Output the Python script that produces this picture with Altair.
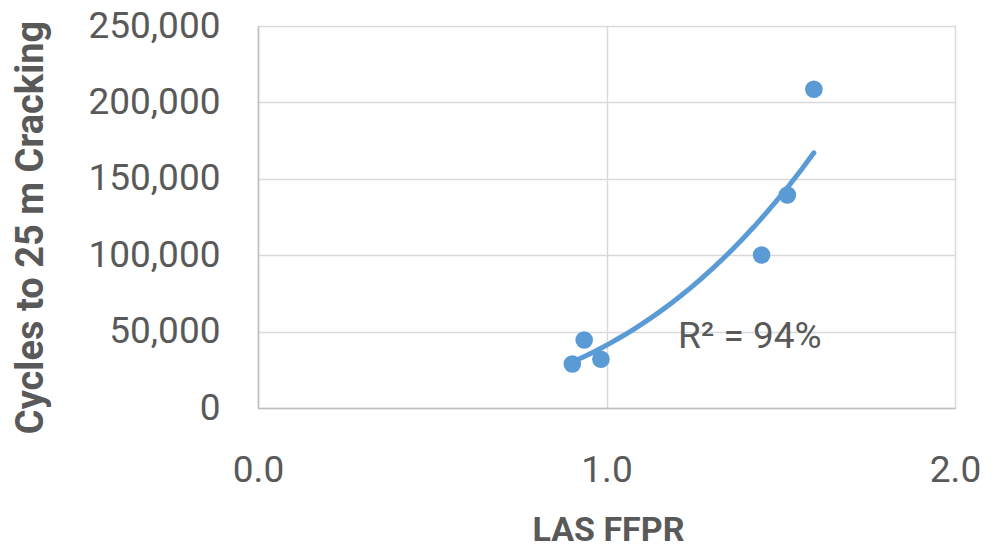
import altair as alt
import pandas as pd

# Data
las_ffpr = [0.902, 0.936, 0.984, 1.445, 1.519, 1.595]
cycles = [28800, 44500, 31900, 100100, 139400, 208600]

x_ticks = [0.0, 1.0, 2.0]
y_ticks = [0, 50000, 100000, 150000, 200000, 250000]

r2_label = "R\u00b2 = 94%"
r2_x = [1.205]
r2_y = [39300]

df = pd.DataFrame({"x": las_ffpr, "y": cycles})
lab = pd.DataFrame({"x": r2_x, "y": r2_y, "t": [r2_label]})

FONT = "Roboto"
GRAY = "#595959"
BLUE = "#5B9BD5"

xscale = alt.Scale(domain=[0, 2], nice=False, zero=False)
yscale = alt.Scale(domain=[0, 250000], nice=False)

xaxis = alt.Axis(
    values=x_ticks, format=".1f", ticks=False, tickSize=0,
    labelFont=FONT, labelFontSize=37, labelColor=GRAY, labelPadding=73,
    labelBaseline="alphabetic", labelFlush=False, labelOverlap=False,
    domainColor="#BFBFBF", domainWidth=1.5,
    grid=True, gridColor="#D9D9D9", gridWidth=1.5,
    title="LAS FFPR", titleFont=FONT, titleFontSize=34, titleFontWeight="bold",
    titleColor=GRAY, titleX=350, titleY=132, titleAlign="center",
    titleBaseline="alphabetic",
)
yaxis = alt.Axis(
    values=y_ticks, format=",d", ticks=False, tickSize=0,
    labelFont=FONT, labelFontSize=37, labelColor=GRAY, labelPadding=38,
    labelAlign="right", labelBaseline="middle", labelFlush=False, labelOverlap=False,
    domainColor="#BFBFBF", domainWidth=1.5,
    grid=True, gridColor="#D9D9D9", gridWidth=1.5,
    title="Cycles to 25 m Cracking", titleFont=FONT, titleFontSize=38,
    titleFontWeight="bold", titleColor=GRAY, titleAngle=270,
    titleX=-216, titleY=201, titleAlign="center", titleBaseline="alphabetic",
)

# Power trendline (least squares in log-log space, as a spreadsheet power trendline)
trend = (
    alt.Chart(df)
    .transform_calculate(lx="log(datum.x)", ly="log(datum.y)")
    .transform_regression("lx", "ly", method="poly", order=1)
    .transform_calculate(xfit="exp(datum.lx)", yfit="exp(datum.ly)")
    .mark_line(color=BLUE, strokeWidth=5, strokeCap="round")
    .encode(
        x=alt.X("xfit:Q", scale=xscale, axis=xaxis),
        y=alt.Y("yfit:Q", scale=yscale, axis=yaxis),
    )
)

points = (
    alt.Chart(df)
    .mark_circle(color=BLUE, size=310, opacity=1)
    .encode(
        x=alt.X("x:Q", scale=xscale, axis=xaxis),
        y=alt.Y("y:Q", scale=yscale, axis=yaxis),
    )
)

text = (
    alt.Chart(lab)
    .mark_text(font=FONT, fontSize=37, color=GRAY, align="left", baseline="alphabetic")
    .encode(
        x=alt.X("x:Q", scale=xscale, axis=xaxis),
        y=alt.Y("y:Q", scale=yscale, axis=yaxis),
        text="t:N",
    )
)

chart = (
    alt.layer(points, trend, text)
    .properties(
        width=697, height=382,
        autosize=alt.AutoSizeParams(type="none"),
        padding={"left": 258, "top": 26, "right": 41, "bottom": 139},
    )
    .configure_view(stroke=None)
    .configure(background="white")
)

chart.save("out.html", embed_options={"renderer": "svg", "actions": False})
